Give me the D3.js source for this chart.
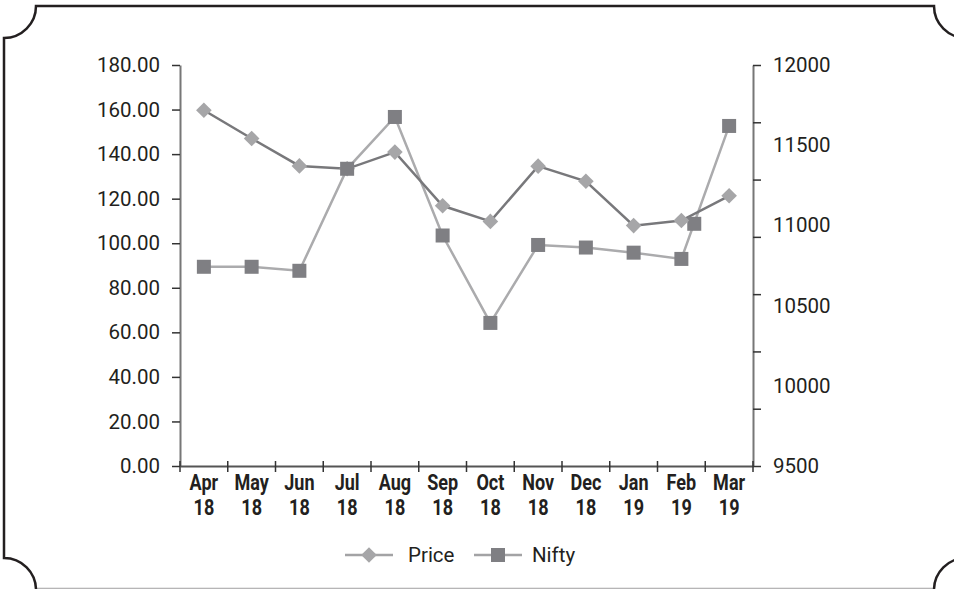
<!DOCTYPE html>
<html>
<head>
<meta charset="utf-8">
<script src="https://cdn.jsdelivr.net/npm/d3@7"></script>
<style>
  html, body { margin: 0; background: #fff; overflow: hidden; }
  svg { display: block; overflow: hidden; }
  text { font-family: Roboto, "Liberation Sans", sans-serif; fill: #231f20; }
</style>
</head>
<body>
<svg class="chart"></svg>
<script>
// Data
var months = ["Apr 18", "May 18", "Jun 18", "Jul 18", "Aug 18", "Sep 18", "Oct 18", "Nov 18", "Dec 18", "Jan 19", "Feb 19", "Mar 19"];
var price = [159.7, 147.0, 134.7, 133.4, 140.9, 116.8, 109.8, 134.6, 127.8, 107.9, 110.2, 121.3];
var nifty = [10742, 10742, 10717, 11353, 11676, 10937, 10392, 10878, 10862, 10830, 10791, 11620];
// stray Nifty marker sitting on the Feb -> Mar segment
var niftyExtra = [{ after: "Feb 19", frac: 0.27, value: 11010 }];
var leftTicks = [0, 20, 40, 60, 80, 100, 120, 140, 160, 180];
var rightTicks = [9500, 10000, 10500, 11000, 11500, 12000];
var rightTickDivisions = 7; // tick marks on the right axis don't line up with the labels

var width = 956, height = 589;
// note: "top" is reserved on window, so use plot* names
var plotLeft = 180, plotRight = 753, plotTop = 65, plotBottom = 466;

var svg = d3.select(".chart")
    .attr("width", width)
    .attr("height", height);

// clip the frame so its right edge stays outside the picture
svg.append("clipPath")
    .attr("id", "frame-clip")
    .append("rect")
    .attr("x", 0).attr("y", 0)
    .attr("width", 954).attr("height", height);

// Frame with scalloped corners
var r = 32, fx0 = 4, fy0 = 6, fx1 = 966, fy1 = 590;
var frame = svg.append("g").attr("clip-path", "url(#frame-clip)");
frame.append("line")
    .attr("x1", fx0 + r).attr("x2", fx1 - r)
    .attr("y1", 588).attr("y2", 588)
    .style("stroke", "#e2e2e2")
    .style("stroke-width", 1.5);
frame.append("path")
    .attr("d", "M" + (fx0 + r) + "," + fy0 +
        " L" + (fx1 - r) + "," + fy0 +
        " A" + r + "," + r + " 0 0 0 " + fx1 + "," + (fy0 + r) +
        " L" + fx1 + "," + (fy1 - r) +
        " A" + r + "," + r + " 0 0 0 " + (fx1 - r) + "," + fy1 +
        " L" + (fx0 + r) + "," + fy1 +
        " A" + r + "," + r + " 0 0 0 " + fx0 + "," + (fy1 - r) +
        " L" + fx0 + "," + (fy0 + r) +
        " A" + r + "," + r + " 0 0 0 " + (fx0 + r) + "," + fy0 + " Z")
    .style("fill", "none")
    .style("stroke", "#231f20")
    .style("stroke-width", 2.5);

// Scales
var x = d3.scaleBand().domain(months).range([plotLeft, plotRight]);
var yLeft = d3.scaleLinear().domain([0, 180]).range([plotBottom, plotTop]);
var yRight = d3.scaleLinear().domain([9500, 12000]).range([plotBottom, plotTop]);
var cx = function(m) { return x(m) + x.bandwidth() / 2; };

// Left axis
var leftAxis = svg.append("g")
    .attr("transform", "translate(" + plotLeft + ",0)")
    .call(d3.axisLeft(yLeft).tickValues(leftTicks).tickFormat(d3.format(".2f")).tickSize(8).tickSizeOuter(0).tickPadding(12));
leftAxis.select(".domain").style("stroke", "#777").style("stroke-width", 2);
leftAxis.selectAll(".tick line").style("stroke", "#333").style("stroke-width", 1.5);
leftAxis.selectAll(".tick text").style("font-size", "20.5px").style("fill", "#231f20");

// Right axis: tick marks and labels are separate
var rightMarks = svg.append("g")
    .attr("transform", "translate(" + plotRight + ",0)")
    .call(d3.axisRight(yRight)
        .tickValues(d3.range(rightTickDivisions + 1).map(function(i) { return 9500 + i * 2500 / rightTickDivisions; }))
        .tickFormat("").tickSize(8).tickSizeOuter(0));
rightMarks.select(".domain").style("stroke", "#777").style("stroke-width", 2);
rightMarks.selectAll(".tick line").style("stroke", "#333").style("stroke-width", 1.5);

var rightLabels = svg.append("g")
    .attr("transform", "translate(" + plotRight + ",0)")
    .call(d3.axisRight(yRight).tickValues(rightTicks).tickFormat(d3.format("d")).tickSize(0).tickPadding(20));
rightLabels.select(".domain").remove();
rightLabels.selectAll(".tick text").style("font-size", "20.5px").style("fill", "#231f20");

// Bottom axis
var xAxis = svg.append("g")
    .attr("transform", "translate(0," + plotBottom + ")")
    .call(d3.axisBottom(x).tickSize(0).tickFormat(""));
xAxis.select(".domain").style("stroke", "#555").style("stroke-width", 2);

// tick marks on band edges, crossing the axis
svg.selectAll(".xtick")
    .data(months.concat(["end"]))
    .enter().append("line")
    .attr("class", "xtick")
    .attr("x1", function(d, i) { return i < months.length ? x(d) : plotRight; })
    .attr("x2", function(d, i) { return i < months.length ? x(d) : plotRight; })
    .attr("y1", plotBottom - 5)
    .attr("y2", plotBottom + 6)
    .style("stroke", "#333")
    .style("stroke-width", 1.5);

// two-line bold month labels (condensed look)
var xLabels = svg.selectAll(".xlabel")
    .data(months)
    .enter().append("g")
    .attr("class", "xlabel")
    .attr("transform", function(d) { return "translate(" + cx(d) + ",0)"; });
xLabels.append("text")
    .attr("y", 490)
    .attr("text-anchor", "middle")
    .attr("transform", "scale(0.82,1)")
    .style("font-size", "22px")
    .style("font-weight", "bold")
    .text(function(d) { return d.split(" ")[0]; });
xLabels.append("text")
    .attr("y", 515)
    .attr("text-anchor", "middle")
    .attr("transform", "scale(0.82,1)")
    .style("font-size", "22px")
    .style("font-weight", "bold")
    .text(function(d) { return d.split(" ")[1]; });

// Lines
var niftyLine = d3.line()
    .x(function(d, i) { return cx(months[i]); })
    .y(function(d) { return yRight(d); });
var priceLine = d3.line()
    .x(function(d, i) { return cx(months[i]); })
    .y(function(d) { return yLeft(d); });

svg.append("path")
    .datum(nifty)
    .attr("d", niftyLine)
    .style("fill", "none")
    .style("stroke", "#ababad")
    .style("stroke-width", 2.5);

svg.append("path")
    .datum(price)
    .attr("d", priceLine)
    .style("fill", "none")
    .style("stroke", "#78787b")
    .style("stroke-width", 2.5);

var sq = 14;
var dia = d3.symbol().type(d3.symbolDiamond2).size(155);

// stray Nifty marker
svg.selectAll(".nifty-extra")
    .data(niftyExtra)
    .enter().append("rect")
    .attr("class", "nifty-extra")
    .attr("x", function(d) { return cx(d.after) + d.frac * x.step() - sq / 2; })
    .attr("y", function(d) { return yRight(d.value) - sq / 2; })
    .attr("width", sq)
    .attr("height", sq)
    .style("fill", "#7f7f83");

// Price markers (diamonds)
svg.selectAll(".price-pt")
    .data(price)
    .enter().append("path")
    .attr("class", "price-pt")
    .attr("d", dia)
    .attr("transform", function(d, i) { return "translate(" + cx(months[i]) + "," + yLeft(d) + ")"; })
    .style("fill", "#a6a6a8");

// Nifty markers (squares)
svg.selectAll(".nifty-pt")
    .data(nifty)
    .enter().append("rect")
    .attr("class", "nifty-pt")
    .attr("x", function(d, i) { return cx(months[i]) - sq / 2; })
    .attr("y", function(d) { return yRight(d) - sq / 2; })
    .attr("width", sq)
    .attr("height", sq)
    .style("fill", "#7f7f83");

// Legend
var legend = svg.append("g").attr("transform", "translate(0,555)");

legend.append("line")
    .attr("x1", 345).attr("x2", 393).attr("y1", 0).attr("y2", 0)
    .style("stroke", "#a3a3a5").style("stroke-width", 2.5);
legend.append("path")
    .attr("d", dia)
    .attr("transform", "translate(369,0)")
    .style("fill", "#a6a6a8");
legend.append("text")
    .attr("x", 408).attr("y", 7)
    .style("font-size", "20.5px")
    .text("Price");

legend.append("line")
    .attr("x1", 474).attr("x2", 522).attr("y1", 0).attr("y2", 0)
    .style("stroke", "#a3a3a5").style("stroke-width", 2.5);
legend.append("rect")
    .attr("x", 498 - sq / 2).attr("y", -sq / 2)
    .attr("width", sq).attr("height", sq)
    .style("fill", "#7f7f83");
legend.append("text")
    .attr("x", 532).attr("y", 7)
    .style("font-size", "20.5px")
    .text("Nifty");
</script>
</body>
</html>
